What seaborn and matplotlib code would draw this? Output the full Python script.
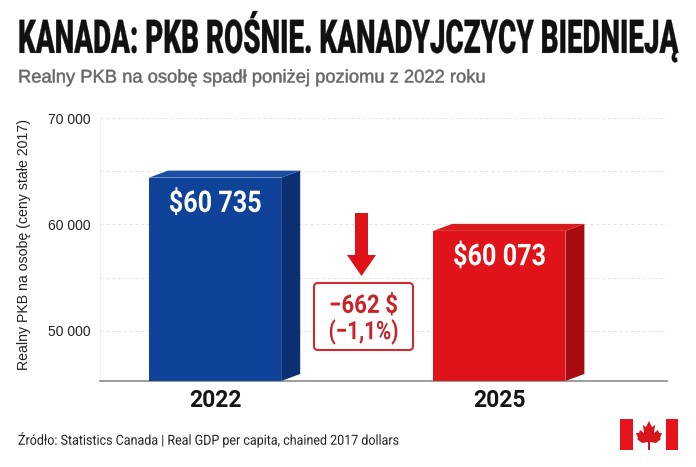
"""Kanada: realny PKB na osobę, 2022 vs 2025."""

import matplotlib.pyplot as plt
import pandas as pd
import seaborn as sns
from matplotlib.patches import FancyBboxPatch, Polygon, Rectangle
from matplotlib.patheffects import AbstractPathEffect
from matplotlib.transforms import Affine2D

years = ["2022", "2025"]
bar_heights = [64400, 59400]  # as drawn on the axis, not the printed values
bar_labels = ["$60 735", "$60 073"]
y_ticks = [50000, 60000, 70000]
y_tick_labels = ["50 000", "60 000", "70 000"]
y_minor_ticks = [55000, 65000]
front_colors = ["#0F4299", "#E0131A"]
side_colors = ["#0A2F73", "#A80C10"]
top_colors = ["#1B4FA6", "#D81C20"]

W, H = 696, 467
ROBOTO = ["Roboto", "DejaVu Sans"]
ARIAL = ["Liberation Sans", "DejaVu Sans"]

sns.set_theme(style="white")
plt.rcParams["font.family"] = ROBOTO

fig = plt.figure(figsize=(W / 100, H / 100), dpi=100, facecolor="white")
ax = fig.add_axes([100 / W, 1 - 381 / H, 567 / W, 263 / H])


def px(x, y):
    """Reference pixel to figure fraction."""
    return x / W, 1 - y / H


class VStretch(AbstractPathEffect):
    """Stretch text vertically around y0 (no condensed fonts installed)."""

    def __init__(self, y0, sy, stroke=0.0):
        super().__init__()
        self.y0, self.sy, self.stroke = y0, sy, stroke

    def draw_path(self, renderer, gc, tpath, affine, rgbFace=None):
        stretch = Affine2D().translate(0, -self.y0).scale(1, self.sy).translate(0, self.y0)
        gc.set_linewidth(self.stroke)
        renderer.draw_path(gc, tpath, affine + stretch, rgbFace)


def fit_text(x, y, s, width, fontsize, stroke=0.0, ha="left", **kw):
    """Real text at reference pixel (x, y): fontsize sets its height, width its pixel width."""
    t = fig.text(*px(x, y), s, ha=ha, va="center", fontsize=fontsize, **kw)
    r = fig.canvas.get_renderer()
    narrow = fontsize * width / t.get_window_extent(r).width
    t.set_fontsize(narrow)
    t.set_path_effects([VStretch(H - y, fontsize / narrow, stroke)])
    return t


df = pd.DataFrame({"year": years, "value": bar_heights})
sns.barplot(
    data=df, x="year", y="value", hue="year", palette=front_colors,
    width=0.465, legend=False, saturation=1, linewidth=0, ax=ax, zorder=3,
)
ax.set_xlim(-0.405, 1.59)
ax.set_ylim(45300, 70000)
ax.set_yticks(y_ticks, y_tick_labels, family=ARIAL)
ax.set_yticks(y_minor_ticks, minor=True)
ax.grid(axis="y", which="both", color="#E2E2E2", linestyle=(0, (3, 3)), linewidth=0.7)
ax.set_axisbelow(True)
sns.despine(ax=ax, top=True, right=True)
ax.spines["left"].set_color("#EFEFEF")
ax.spines["left"].set_linewidth(0.8)
ax.spines["bottom"].set_color("#8C8C8C")
ax.spines["bottom"].set_linewidth(1.2)
ax.tick_params(axis="y", which="both", length=0, labelsize=10, labelcolor="#222222", pad=6.5)
ax.tick_params(axis="x", length=0, pad=6)
for lab in ax.get_xticklabels():
    lab.set_fontsize(16.5)
    lab.set_fontweight("bold")
    lab.set_color("#151515")
ax.set_xlabel("")
ax.set_ylabel("")

# 3D faces on top of the seaborn bars
dx = 19 / (567 / 1.995)
dy = 7 / (263 / 24700)
for bar, side, top, label in zip(ax.patches, side_colors, top_colors, bar_labels):
    x0, x1 = bar.get_x(), bar.get_x() + bar.get_width()
    h = bar.get_height()
    base = ax.get_ylim()[0]
    ax.add_patch(Polygon([(x1, base), (x1 + dx, base + dy), (x1 + dx, h + dy), (x1, h)],
                         color=side, zorder=3, lw=0))
    ax.add_patch(Polygon([(x0, h), (x0 + dx, h + dy), (x1 + dx, h + dy), (x1, h)],
                         color=top, zorder=3, lw=0))
    cx = ax.transData.transform(((x0 + x1) / 2, 0))[0]
    cy = H - ax.transData.transform((0, h))[1]
    fit_text(cx, cy + 26, label, 93, 21.5, ha="center", color="white",
             fontweight="bold", family=ROBOTO, zorder=4)

fit_text(18, 37, "KANADA: PKB ROŚNIE. KANADYJCZYCY BIEDNIEJĄ", 660, 33.5, stroke=0.2,
         fontweight="black", color="#111111", family=ROBOTO)
fit_text(18, 78, "Realny PKB na osobę spadł poniżej poziomu z 2022 roku", 469, 13.2, stroke=0.35,
         color="#666666", family=ARIAL)
fig.text(*px(24, 244), "Realny PKB na osobę (ceny stałe 2017)", rotation=90, family=ARIAL,
         fontsize=10.2, color="#222222", va="center", ha="center")
fit_text(18, 440, "Źródło: Statistics Canada | Real GDP per capita, chained 2017 dollars", 380, 10,
         color="#222222", family=ROBOTO)

# drop arrow
red = "#DF1219"
arrow = [(355, 213), (368, 213), (368, 255), (376, 255), (361.5, 276), (347, 255), (355, 255)]
fig.add_artist(Polygon([px(*p) for p in arrow], closed=True, color=red, lw=0,
                       transform=fig.transFigure))

# change box
fig.add_artist(FancyBboxPatch((314, H - 350), 99, 67, boxstyle="round,pad=0,rounding_size=4",
                              transform=None, fc="white", ec="#CE2A30", lw=1.5))
fit_text(363.5, 306, "−662 $", 69, 18.3, ha="center", fontweight="bold",
         color="#C8232A", family=ROBOTO)
fit_text(363.5, 332, "(−1,1%)", 70, 18.3, ha="center", fontweight="bold",
         color="#C8232A", family=ROBOTO)

# flag
for fx0, fx1 in [(620, 633), (666, 678)]:
    fig.add_artist(Rectangle(px(fx0, 450), (fx1 - fx0) / W, 31 / H, color="#E8141C", lw=0,
                             transform=fig.transFigure))
leaf = [(649, 421), (652, 427), (655, 425), (654, 433), (658, 430), (659, 433), (662, 433),
        (660, 438), (661, 439), (656, 443), (650, 442), (650, 450), (648, 450), (648, 442),
        (642, 443), (637, 439), (638, 438), (636, 433), (639, 433), (640, 430), (644, 433),
        (643, 425), (646, 427)]
fig.add_artist(Polygon([px(*p) for p in leaf], closed=True, color="#D8141C", lw=0,
                       transform=fig.transFigure))

fig.savefig("out.png", dpi=100)
